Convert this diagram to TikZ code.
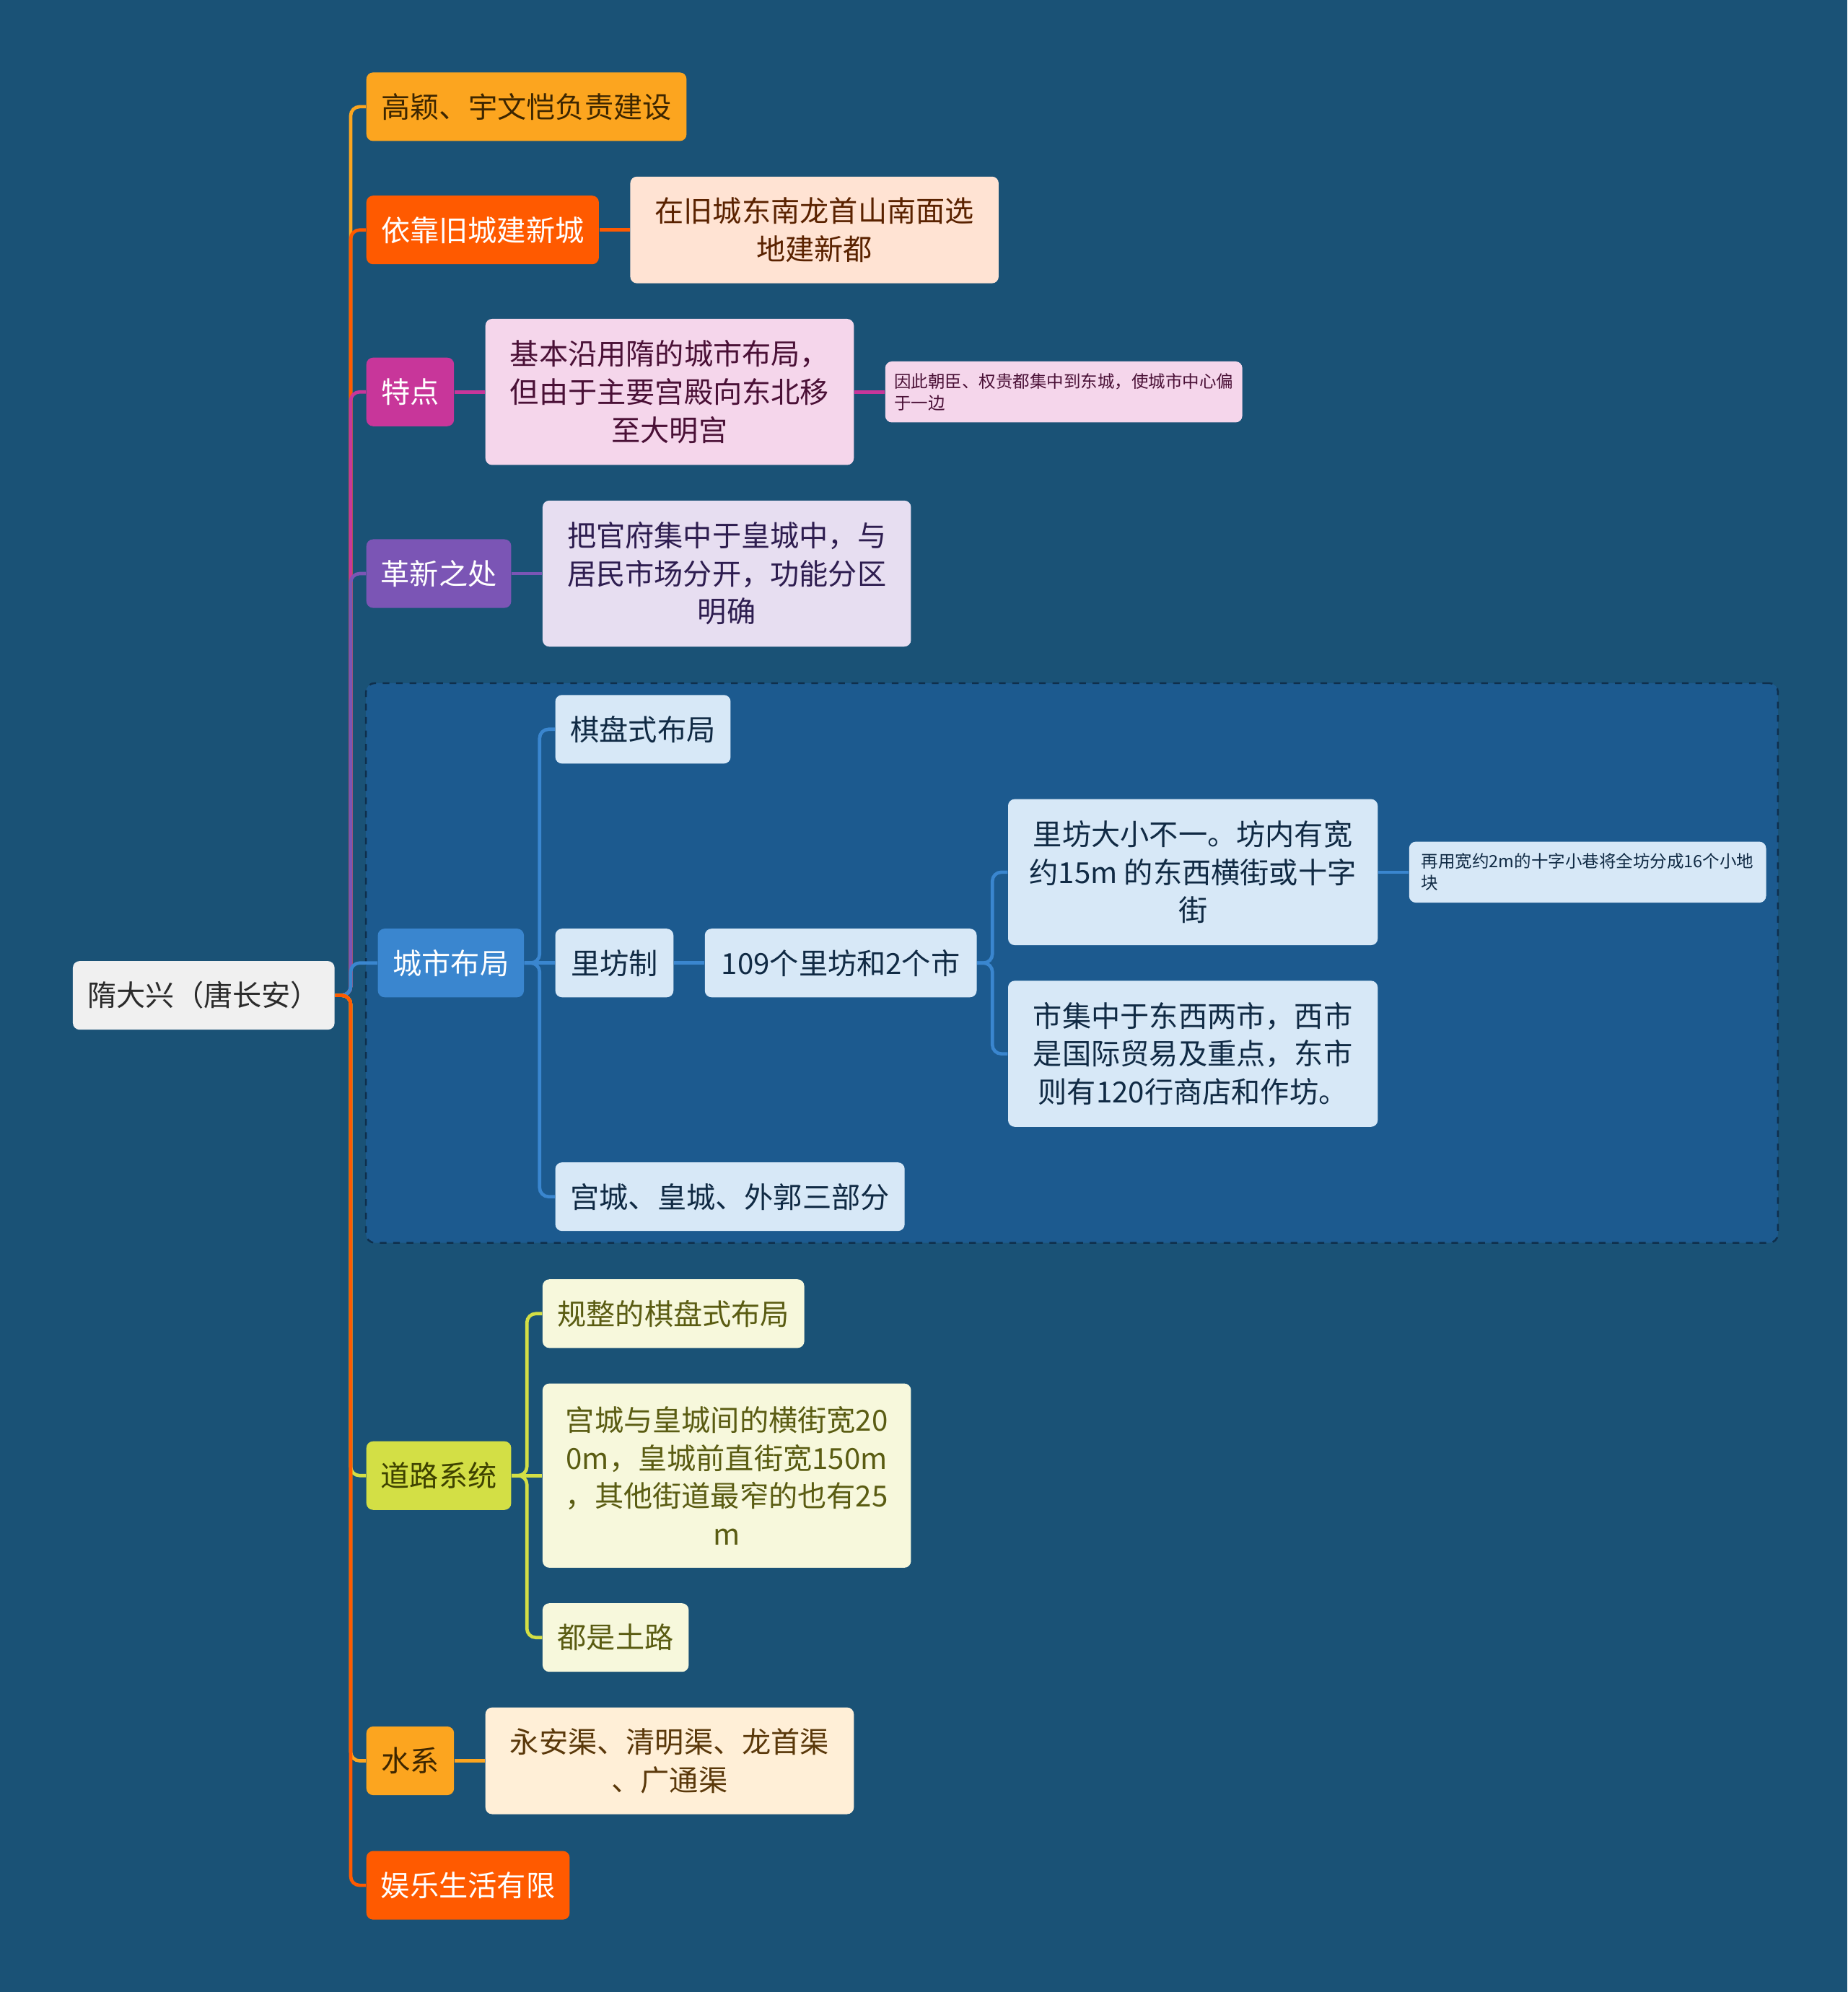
\documentclass[tikz,border=0pt]{standalone}
\usepackage{fontspec}
\setmainfont{Noto Sans CJK SC}
\usepackage{tikz}
\usetikzlibrary{positioning,calc,fit,backgrounds}
\definecolor{bgblue}{HTML}{1A5276}
\definecolor{groupfill}{HTML}{1C5A8F}
\definecolor{groupline}{HTML}{0F2F4C}
\definecolor{rootfill}{HTML}{F0F0F0}
\definecolor{roottext}{HTML}{2B2B2B}
\definecolor{cAmber}{HTML}{FCA51F}
\definecolor{cFlame}{HTML}{FF5A00}
\definecolor{cMagenta}{HTML}{C8369A}
\definecolor{cViolet}{HTML}{7B55B5}
\definecolor{cAzure}{HTML}{3A86CF}
\definecolor{cLime}{HTML}{D3DF45}
\definecolor{amberText}{HTML}{3D2600}
\definecolor{amberLeaf}{HTML}{FFEFD7}
\definecolor{amberLeafText}{HTML}{5A380A}
\definecolor{flameLeaf}{HTML}{FFE3D3}
\definecolor{flameText}{HTML}{5A2200}
\definecolor{magentaLeaf}{HTML}{F5D6EB}
\definecolor{magentaText}{HTML}{4A1036}
\definecolor{violetLeaf}{HTML}{E7DEF1}
\definecolor{violetText}{HTML}{2E1D50}
\definecolor{azureLeaf}{HTML}{D7E8F7}
\definecolor{azureText}{HTML}{102A44}
\definecolor{limeLeaf}{HTML}{F7F8DC}
\definecolor{limeText}{HTML}{5A5C12}
\definecolor{limeDark}{HTML}{3E4200}
\newcommand{\bigtxt}{\fontsize{13pt}{17pt}\selectfont}
\newcommand{\smalltxt}{\fontsize{7.6pt}{9.7pt}\selectfont}
\tikzset{
  mmbox/.style={rounded corners=3pt,align=center,inner xsep=2mm,inner ysep=0.5mm,
    font=\bigtxt,minimum height=10.8mm},
  mmnote/.style={mmbox,align=left,font=\smalltxt,inner xsep=1.4mm,minimum height=9.6mm},
  mmroot/.style={mmbox,fill=rootfill,text=roottext},
  mmlink/.style={line width=1.5pt,rounded corners=4pt},
  gpbox/.style={draw=groupline,dashed,fill=groupfill,rounded corners=4pt,line width=0.8pt},
}

\begin{document}
\begin{tikzpicture}[x=0.02cm,y=-0.02cm,node distance=4.8mm]
\useasboundingbox (0,0) rectangle (1454,1568);
% centre topic
\node[mmroot,anchor=west,minimum width=41.2mm] (root) at (57,783.5) {隋大兴（唐长安）};
\coordinate (tr) at (276,783.5);
% first level
\node[mmbox,fill=cAmber,text=amberText,anchor=west,minimum width=50.4mm] (jianshe) at (288,84) {高颖、宇文恺负责建设};
\node[mmbox,fill=cFlame,text=white,anchor=west,minimum width=36.6mm] (yikao) at (288,181) {依靠旧城建新城};
\node[mmbox,fill=flameLeaf,text=flameText,right=of yikao,minimum width=58mm,minimum height=16.8mm] (xuanzhi) {在旧城东南龙首山南面选\\地建新都};
\node[mmbox,fill=cMagenta,text=white,anchor=west,minimum width=13.8mm] (tedian) at (288,308.5) {特点};
\node[mmbox,fill=magentaLeaf,text=magentaText,right=of tedian,minimum width=58mm,minimum height=23mm] (yanyong) {基本沿用隋的城市布局，\\但由于主要宫殿向东北移\\至大明宫};
\node[mmnote,fill=magentaLeaf,text=magentaText,right=of yanyong,minimum width=56.2mm] (pianyu) {因此朝臣、权贵都集中到东城，使城市中心偏\\于一边};
\node[mmbox,fill=cViolet,text=white,anchor=west,minimum width=22.8mm] (gexin) at (288,451.5) {革新之处};
\node[mmbox,fill=violetLeaf,text=violetText,right=of gexin,minimum width=58mm,minimum height=23mm] (guanfu) {把官府集中于皇城中，与\\居民市场分开，功能分区\\明确};
% city layout group
\node[mmbox,fill=cAzure,text=white,anchor=west,minimum width=23mm] (city) at (297,758) {城市布局};
\node[mmbox,fill=azureLeaf,text=azureText,right=of city,yshift=36.8mm,minimum width=27.6mm] (qipan) {棋盘式布局};
\node[mmbox,fill=azureLeaf,text=azureText,right=of city,minimum width=18.6mm] (lifang) {里坊制};
\node[mmbox,fill=azureLeaf,text=azureText,right=of lifang,minimum width=42.8mm] (lf109) {109个里坊和2个市};
\node[mmbox,fill=azureLeaf,text=azureText,right=of lf109,yshift=14.3mm,minimum width=58.2mm,minimum height=23mm] (daxiao) {里坊大小不一。坊内有宽\\约15m 的东西横街或十字\\街};
\node[mmnote,fill=azureLeaf,text=azureText,right=of daxiao,minimum width=56.2mm] (zaiyong) {再用宽约2m的十字小巷将全坊分成16个小地\\块};
\node[mmbox,fill=azureLeaf,text=azureText,right=of lf109,yshift=-14.3mm,minimum width=58.2mm,minimum height=23mm] (shiji) {市集中于东西两市，西市\\是国际贸易及重点，东市\\则有120行商店和作坊。};
\node[mmbox,fill=azureLeaf,text=azureText,right=of city,yshift=-36.8mm,minimum width=55mm] (sanbufen) {宫城、皇城、外郭三部分};
% roads
\node[mmbox,fill=cLime,text=limeDark,anchor=west,minimum width=22.8mm] (road) at (288,1161.5) {道路系统};
\node[mmbox,fill=limeLeaf,text=limeText,right=of road,yshift=25.5mm,minimum width=41.2mm] (guizheng) {规整的棋盘式布局};
\node[mmbox,fill=limeLeaf,text=limeText,right=of road,minimum width=58mm,minimum height=29mm] (jiekuan) {宫城与皇城间的横街宽20\\0m，皇城前直街宽150m\\，其他街道最窄的也有25\\m};
\node[mmbox,fill=limeLeaf,text=limeText,right=of road,yshift=-25.5mm,minimum width=23mm] (tulu) {都是土路};
% water and leisure
\node[mmbox,fill=cAmber,text=amberText,anchor=west,minimum width=13.8mm] (shuixi) at (288,1386) {水系};
\node[mmbox,fill=amberLeaf,text=amberLeafText,right=of shuixi,minimum width=58mm,minimum height=16.8mm] (qudao) {永安渠、清明渠、龙首渠\\、广通渠};
\node[mmbox,fill=cFlame,text=white,anchor=west,minimum width=32mm] (yule) at (288,1484) {娱乐生活有限};

% trunk
\draw[mmlink,cAmber] (root.east) -- (tr) |- (jianshe.west);
\draw[mmlink,cFlame] (root.east) -- (tr) |- (yikao.west);
\draw[mmlink,cMagenta] (root.east) -- (tr) |- (tedian.west);
\draw[mmlink,cViolet] (root.east) -- (tr) |- (gexin.west);
\draw[mmlink,cAzure] (root.east) -- (tr) |- (city.west);
\draw[mmlink,cLime] (root.east) -- (tr) |- (road.west);
\draw[mmlink,cAmber] (root.east) -- (tr) |- (shuixi.west);
\draw[mmlink,cFlame] (root.east) -- (tr) |- (yule.west);
% leaves
\draw[mmlink,cFlame] (yikao) -- (xuanzhi);
\draw[mmlink,cMagenta] (tedian) -- (yanyong);
\draw[mmlink,cMagenta] (yanyong) -- (pianyu);
\draw[mmlink,cViolet] (gexin) -- (guanfu);
\coordinate (cj) at ($(city.east)+(12,0)$);
\draw[mmlink,cAzure] (city.east) -- (cj) |- (qipan.west);
\draw[mmlink,cAzure] (city.east) -- (cj) |- (sanbufen.west);
\draw[mmlink,cAzure] (city) -- (lifang);
\draw[mmlink,cAzure] (lifang) -- (lf109);
\coordinate (lj) at ($(lf109.east)+(12,0)$);
\draw[mmlink,cAzure] (lf109.east) -- (lj) |- (daxiao.west);
\draw[mmlink,cAzure] (lf109.east) -- (lj) |- (shiji.west);
\draw[mmlink,cAzure] (daxiao) -- (zaiyong);
\coordinate (rj) at ($(road.east)+(12,0)$);
\draw[mmlink,cLime] (road.east) -- (rj) |- (guizheng.west);
\draw[mmlink,cLime] (road.east) -- (rj) |- (tulu.west);
\draw[mmlink,cLime] (road) -- (jiekuan);
\draw[mmlink,cAmber] (shuixi) -- (qudao);

\begin{scope}[on background layer]
\fill[bgblue] (0,0) rectangle (1454,1568);
\node[gpbox,fit=(city)(qipan)(sanbufen)(zaiyong),inner sep=1.8mm] (group) {};
\end{scope}
\end{tikzpicture}
\end{document}
